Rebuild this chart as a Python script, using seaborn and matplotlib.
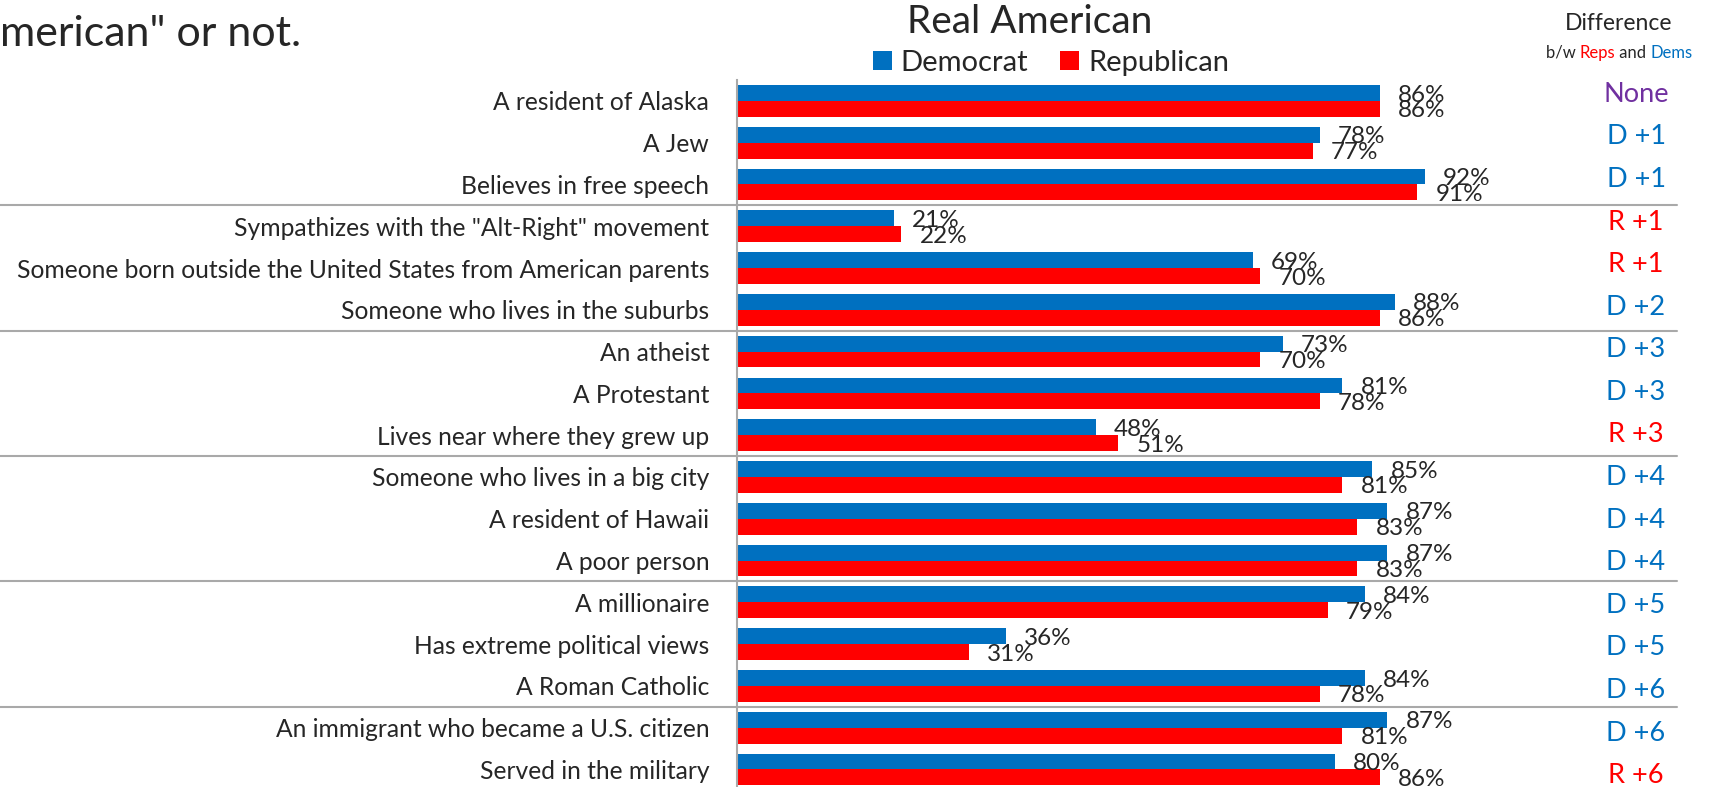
import matplotlib
matplotlib.use("Agg")
import matplotlib.pyplot as plt
import matplotlib.transforms as mtransforms
from matplotlib.patches import Patch
import seaborn as sns
import pandas as pd

# ---------------- data ----------------
categories = [
    "A resident of Alaska",
    "A Jew",
    "Believes in free speech",
    'Sympathizes with the "Alt-Right" movement',
    "Someone born outside the United States from American parents",
    "Someone who lives in the suburbs",
    "An atheist",
    "A Protestant",
    "Lives near where they grew up",
    "Someone who lives in a big city",
    "A resident of Hawaii",
    "A poor person",
    "A millionaire",
    "Has extreme political views",
    "A Roman Catholic",
    "An immigrant who became a U.S. citizen",
    "Served in the military",
]
democrat = [86, 78, 92, 21, 69, 88, 73, 81, 48, 85, 87, 87, 84, 36, 84, 87, 80]
republican = [86, 77, 91, 22, 70, 86, 70, 78, 51, 81, 83, 83, 79, 31, 78, 81, 86]
difference = ["None", "D +1", "D +1", "R +1", "R +1", "D +2", "D +3", "D +3", "R +3",
              "D +4", "D +4", "D +4", "D +5", "D +5", "D +6", "D +6", "R +6"]
series = ["Democrat", "Republican"]
group_breaks = [2.5, 5.5, 8.5, 11.5, 14.5]

BLUE = "#0070C0"
RED = "#FF0000"
PURPLE = "#7030A0"
TXT = "#262626"
GRID = "#A9A9A9"

df = pd.DataFrame({
    "category": categories * 2,
    "party": [series[0]] * len(categories) + [series[1]] * len(categories),
    "value": democrat + republican,
})

sns.set_theme(style="white")
plt.rcParams["font.family"] = ["Lato", "DejaVu Sans"]

W, H = 1735, 787
fig = plt.figure(figsize=(W / 100, H / 100), dpi=100)

# main axes: left at x=737px, right at 1677px, top at y=80px, bottom at figure edge
ax_left, ax_right, ax_top = 737, 1677, 80
ax = fig.add_axes([ax_left / W, 0, (ax_right - ax_left) / W, (H - ax_top) / H])

sns.barplot(data=df, y="category", x="value", hue="party", orient="h",
            palette={series[0]: BLUE, series[1]: RED}, saturation=1,
            width=0.76, ax=ax, legend=False, edgecolor="none")

xmax = (ax_right - ax_left) / 7.475
ax.set_xlim(0, xmax)
ax.set_ylim(16.42, -0.5)

for cont in ax.containers:
    anns = ax.bar_label(cont, fmt="%d%%", padding=13, fontsize=17.5, color=TXT)
    for a in anns:
        a.xyann = (13, -1.5)

ax.set_xlabel("")
ax.set_ylabel("")
ax.set_xticks([])
ax.tick_params(axis="y", length=0, pad=20, labelsize=17.7, labelcolor=TXT)
for s in ["top", "right", "bottom"]:
    ax.spines[s].set_visible(False)
ax.spines["left"].set_color(GRID)
ax.spines["left"].set_linewidth(1.5)

# group separator lines spanning from figure left edge to right of difference column
trans = mtransforms.blended_transform_factory(ax.transAxes, ax.transData)
for yb in group_breaks:
    ax.plot([-ax_left / (ax_right - ax_left), 1.0], [yb, yb], transform=trans,
            color=GRID, lw=1.5, clip_on=False, zorder=0)

# difference column in its own axes (separate text box in original)
d_top, d_bot = 73.0, 797.0
ax2 = fig.add_axes([ax_left / W, (H - d_bot) / H, (ax_right - ax_left) / W, (d_bot - d_top) / H])
ax2.set_xlim(0, xmax)
ax2.set_ylim(len(difference) - 0.5, -0.5)
ax2.axis("off")
xdiff = (1636 - ax_left) / 7.475
for i, lab in enumerate(difference):
    col = PURPLE if lab.startswith("N") else (BLUE if lab.startswith("D") else RED)
    ax2.text(xdiff, i, lab, ha="center", va="center", fontsize=19.5, color=col)

# headers
fig.text(1030 / W, 1 - 22 / H, "Real American", ha="center", va="center",
         fontsize=28, color=TXT)
handles = [Patch(facecolor=BLUE, edgecolor="none"), Patch(facecolor=RED, edgecolor="none")]
fig.legend(handles, series, loc="center", bbox_to_anchor=(1051 / W, 1 - 63 / H),
           ncol=2, frameon=False, fontsize=21, handlelength=0.65, handleheight=0.65,
           handletextpad=0.3, columnspacing=1.1, labelcolor=TXT)

xc_diff = 1619
fig.text(xc_diff / W, 1 - 24 / H, "Difference", ha="center", va="center",
         fontsize=16.5, color=TXT)
# "b/w Reps and Dems" with coloured words
y_bw = 1 - 53 / H
parts = [("b/w ", TXT), ("Reps", RED), (" and ", TXT), ("Dems", BLUE)]
renderer = fig.canvas.get_renderer()
texts = []
for s, c in parts:
    t = fig.text(0, y_bw, s, ha="left", va="center", fontsize=12, color=c)
    texts.append(t)
widths = [t.get_window_extent(renderer).width for t in texts]
total = sum(widths)
x0 = xc_diff - total / 2
for t, w in zip(texts, widths):
    t.set_x(x0 / W)
    x0 += w

fig.text(0, 1 - 34 / H, 'merican" or not.', ha="left", va="center",
         fontsize=31, color=TXT)

fig.savefig("out.png", dpi=100)
